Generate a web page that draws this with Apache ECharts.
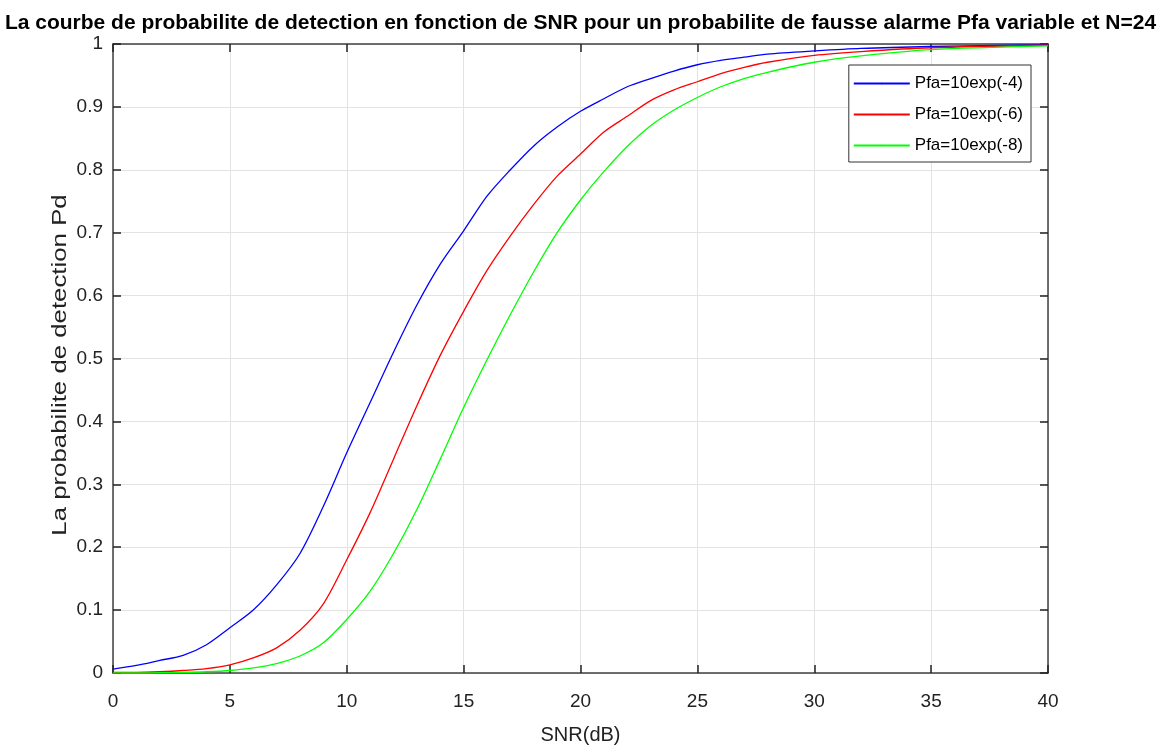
<!DOCTYPE html>
<html>
<head>
<meta charset="utf-8">
<script src="https://cdn.jsdelivr.net/npm/echarts@6/dist/echarts.min.js"></script>
<style>
    html, body { margin: 0; padding: 0; background: #fff; }
    #chart { width: 1161px; height: 747px; }
</style>
</head>
<body>
<div id="chart"></div>
<script>
// SNR values (dB)
const snr = [0, 1, 2, 3, 4, 5, 6, 7, 8, 9, 10, 11, 12, 13, 14, 15, 16, 17, 18, 19, 20,
    21, 22, 23, 24, 25, 26, 27, 28, 30, 32, 35, 40];

// Pd
const pdPfa4 = [0.006, 0.012, 0.02, 0.028, 0.045, 0.072, 0.1, 0.14, 0.19, 0.265, 0.35,
    0.43, 0.51, 0.585, 0.65, 0.703, 0.758, 0.8, 0.838, 0.868, 0.893,
    0.913, 0.932, 0.945, 0.957, 0.967, 0.974, 0.979, 0.984, 0.989, 0.993, 0.996, 0.999];
const pdPfa6 = [0.001, 0.001, 0.002, 0.004, 0.007, 0.013, 0.024, 0.04, 0.068, 0.11, 0.18,
    0.255, 0.34, 0.425, 0.505, 0.575, 0.64, 0.695, 0.745, 0.79, 0.825,
    0.86, 0.885, 0.91, 0.927, 0.94, 0.953, 0.963, 0.971, 0.982, 0.988, 0.994, 0.998];
const pdPfa8 = [0, 0, 0.0005, 0.001, 0.002, 0.004, 0.008, 0.015, 0.027, 0.048, 0.085,
    0.13, 0.19, 0.26, 0.34, 0.422, 0.498, 0.57, 0.638, 0.7, 0.752,
    0.797, 0.837, 0.87, 0.895, 0.915, 0.932, 0.945, 0.955, 0.971, 0.981, 0.991, 0.997];

const seriesNames = ['Pfa=10exp(-4)', 'Pfa=10exp(-6)', 'Pfa=10exp(-8)'];
const seriesColors = ['#0000ff', '#ff0000', '#00ff00'];
const xTicks = [0, 5, 10, 15, 20, 25, 30, 35, 40];
const yTicks = [0, 0.1, 0.2, 0.3, 0.4, 0.5, 0.6, 0.7, 0.8, 0.9, 1];
const titleText = 'La courbe de probabilite de detection en fonction de SNR pour un probabilite de fausse alarme Pfa variable et N=24';
const yName = 'La probabilite de detection Pd';
const xName = 'SNR(dB)';

const font = 'Liberation Sans, Arial, sans-serif';
const axisColor = '#404040';

function pairs(ys) {
    return snr.map((x, i) => [x, ys[i]]);
}

function makeSeries(name, ys, color) {
    return {
        name: name,
        type: 'line',
        data: pairs(ys),
        symbol: 'none',
        smooth: 0.3,
        lineStyle: { color: color, width: 1.3 },
        itemStyle: { color: color },
        z: 3
    };
}

const chart = echarts.init(document.getElementById('chart'));

const baseX = {
    type: 'value',
    min: 0,
    max: 40,
    interval: 5,
    axisLine: { show: true, onZero: false, lineStyle: { color: axisColor, width: 1.5 } },
    axisTick: { show: true, inside: true, length: 8, lineStyle: { color: '#222', width: 1.5 } }
};
const baseY = {
    type: 'value',
    min: 0,
    max: 1,
    interval: 0.1,
    axisLine: { show: true, onZero: false, lineStyle: { color: axisColor, width: 1.5 } },
    axisTick: { show: true, inside: true, length: 8, lineStyle: { color: '#222', width: 1.5 } }
};

chart.setOption({
    animation: false,
    backgroundColor: '#fff',
    title: {
        text: titleText,
        left: 'center',
        top: 8,
        textStyle: { fontFamily: font, fontSize: 21, fontWeight: 'bold', color: '#000' }
    },
    legend: {
        data: seriesNames,
        orient: 'vertical',
        right: 130,
        top: 65,
        itemWidth: 56,
        itemHeight: 2,
        itemGap: 14,
        padding: [10, 8, 8, 4],
        borderColor: '#333',
        borderWidth: 1,
        backgroundColor: '#fff',
        textStyle: { fontFamily: font, fontSize: 17, color: '#000' }
    },
    // keep the plot box fixed, labels may sit near the edge
    grid: { left: 113, right: 113, top: 44, bottom: 74, outerBoundsMode: 'none' },
    xAxis: [
        Object.assign({}, baseX, {
            position: 'bottom',
            name: xName,
            nameLocation: 'middle',
            nameGap: 52,
            nameTextStyle: { fontFamily: font, fontSize: 20, color: '#222' },
            axisLabel: {
                fontFamily: font, fontSize: 19, color: '#222', margin: 19,
                formatter: v => xTicks.includes(v) ? String(v) : ''
            },
            splitLine: { show: true, lineStyle: { color: '#e3e3e3', width: 1 } }
        }),
        Object.assign({}, baseX, {
            position: 'top',
            axisLabel: { show: false },
            splitLine: { show: false }
        })
    ],
    yAxis: [
        Object.assign({}, baseY, {
            position: 'left',
            axisLabel: {
                fontFamily: font, fontSize: 19, color: '#222', margin: 10,
                formatter: v => {
                    const r = Math.round(v * 10) / 10;
                    return yTicks.includes(r) ? String(r) : '';
                }
            },
            splitLine: { show: true, lineStyle: { color: '#e3e3e3', width: 1 } }
        }),
        Object.assign({}, baseY, {
            position: 'right',
            axisLabel: { show: false },
            splitLine: { show: false }
        })
    ],
    graphic: [{
        // y axis title, stretched along its length like the original
        type: 'text',
        x: 60,
        y: 365,
        rotation: Math.PI / 2,
        scaleX: 1.29,
        style: {
            text: yName,
            font: '20px ' + font,
            fill: '#222',
            textAlign: 'center',
            textVerticalAlign: 'middle'
        }
    }],
    series: [
        makeSeries(seriesNames[0], pdPfa4, seriesColors[0]),
        makeSeries(seriesNames[1], pdPfa6, seriesColors[1]),
        makeSeries(seriesNames[2], pdPfa8, seriesColors[2])
    ]
});
</script>
</body>
</html>
